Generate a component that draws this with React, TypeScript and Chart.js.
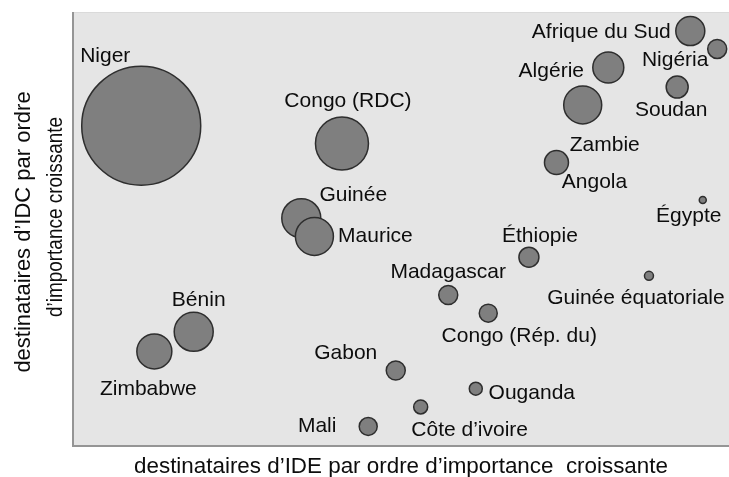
import React, { useEffect, useRef } from "react";
import { Chart, registerables } from "chart.js";

Chart.register(...registerables);

const countries = [
  "Niger", "Congo (RDC)", "Guinée", "Maurice", "Bénin", "Zimbabwe", "Gabon", "Mali",
  "Côte d’ivoire", "Ouganda", "Congo (Rép. du)", "Madagascar", "Éthiopie",
  "Guinée équatoriale", "Égypte", "Angola", "Zambie", "Algérie", "Afrique du Sud",
  "Nigéria", "Soudan",
];
// rank of FDI destination (x) and rank of CDI destination (y), 0-100 scale
const fdiRank = [10.4, 41.0, 34.8, 36.8, 18.4, 12.4, 49.2, 45.0, 53.0, 61.4, 63.3, 57.2, 69.5, 87.8, 96.0, 73.7, 77.7, 81.6, 94.1, 98.2, 92.1];
const cdiRank = [73.8, 69.7, 52.5, 48.3, 26.3, 21.8, 17.4, 4.5, 9.0, 13.2, 30.6, 34.8, 43.5, 39.2, 56.7, 65.3, 78.6, 87.2, 95.6, 91.5, 82.7];
const bubbleSize = [59.5, 26.5, 19.5, 19, 19.5, 17.5, 9.5, 9, 7, 6.5, 9, 9.5, 10, 4.5, 3.5, 12, 19, 15.5, 14.5, 9.5, 11];

const xTitle = "destinataires d’IDE par ordre d’importance  croissante";
const yTitle = ["destinataires d’IDC par ordre", "d’importance croissante"];

// label placement relative to each bubble centre (layout only)
const labelOffsets: [number, number][] = [
  [-36, -70], [6, -42], [52, -23], [61, 0], [5, -32], [-6, 38], [-50, -17], [-51, 0],
  [49, 23], [56, 4], [31, 23], [0, -23], [11, -21], [-13, 22], [-14, 16], [38, 20],
  [22, 40], [-57, 4], [-89, 1], [-42, 11], [-6, 23],
];

const FONT = "'Liberation Sans', Arial, sans-serif";

const decorPlugin = {
  id: "decor",
  beforeDatasetsDraw(chart: any) {
    const { ctx, chartArea: a } = chart;
    ctx.save();
    ctx.fillStyle = "#e5e5e5";
    ctx.fillRect(a.left, a.top, a.right - a.left, a.bottom - a.top);
    ctx.strokeStyle = "#dadada";
    ctx.lineWidth = 1;
    ctx.beginPath();
    ctx.moveTo(a.left, a.top + 0.5);
    ctx.lineTo(a.right, a.top + 0.5);
    ctx.stroke();
    ctx.strokeStyle = "#959595";
    ctx.lineWidth = 2;
    ctx.beginPath();
    ctx.moveTo(a.left, a.top);
    ctx.lineTo(a.left, a.bottom);
    ctx.lineTo(a.right, a.bottom);
    ctx.stroke();
    ctx.restore();
  },
  afterDatasetsDraw(chart: any) {
    const { ctx, chartArea: a } = chart;
    const meta = chart.getDatasetMeta(0);
    ctx.save();
    ctx.fillStyle = "#0d0d0d";
    ctx.font = `21px ${FONT}`;
    ctx.textAlign = "center";
    ctx.textBaseline = "middle";
    meta.data.forEach((el: any, i: number) => {
      const [dx, dy] = labelOffsets[i];
      ctx.fillText(countries[i], el.x + dx, el.y + dy);
    });
    ctx.font = `22.4px ${FONT}`;
    ctx.fillText(xTitle, (a.left + a.right) / 2, a.bottom + 21);
    const mid = (a.top + a.bottom) / 2;
    ctx.save();
    ctx.translate(24, mid + 3);
    ctx.rotate(-Math.PI / 2);
    ctx.font = `22px ${FONT}`;
    ctx.fillText(yTitle[0], 0, 0);
    ctx.restore();
    ctx.save();
    ctx.translate(56, mid - 12);
    ctx.rotate(-Math.PI / 2);
    ctx.font = `22px ${FONT}`;
    ctx.fillText(yTitle[1], 0, 0, 200);
    ctx.restore();
    ctx.restore();
  },
};

export default function App() {
  const ref = useRef<HTMLCanvasElement>(null);
  useEffect(() => {
    document.body.style.margin = "0";
    const chart = new Chart(ref.current!, {
      type: "bubble",
      data: {
        datasets: [
          {
            data: countries.map((_, i) => ({ x: fdiRank[i], y: cdiRank[i], r: bubbleSize[i] })),
            backgroundColor: "#7f7f7f",
            borderColor: "#2e2e2e",
            borderWidth: 1.5,
          },
        ],
      },
      options: {
        animation: false,
        responsive: false,
        layout: { autoPadding: false, padding: { left: 73, top: 12, right: 0, bottom: 31 } },
        scales: {
          x: { min: 0, max: 100, display: false },
          y: { min: 0, max: 100, display: false },
        },
        plugins: { legend: { display: false }, tooltip: { enabled: false } },
      },
      plugins: [decorPlugin],
    });
    return () => chart.destroy();
  }, []);
  return (
    <div style={{ width: 729, height: 477, background: "#fff" }}>
      <canvas ref={ref} width={729} height={477} style={{ display: "block", width: 729, height: 477 }} />
    </div>
  );
}
